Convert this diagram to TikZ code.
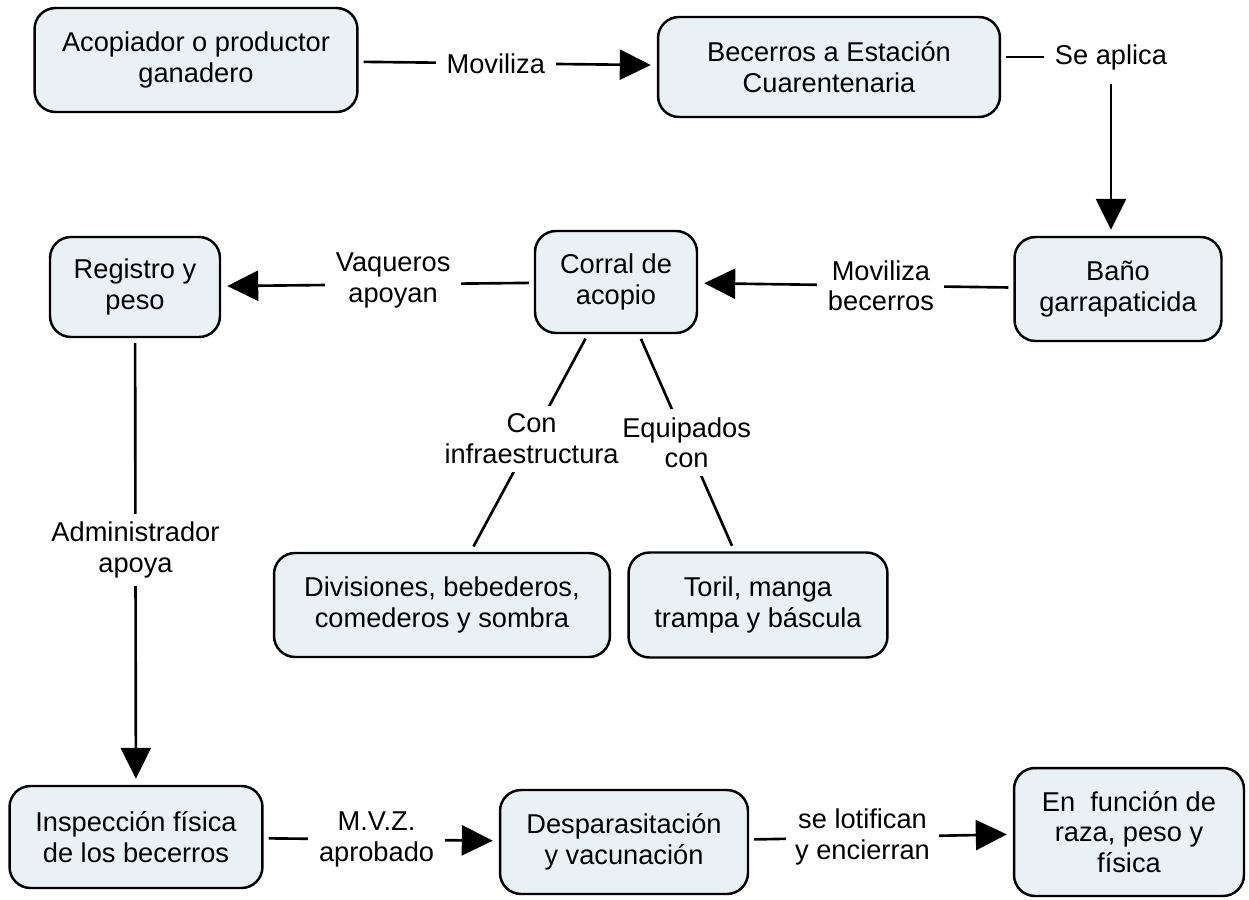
\documentclass[tikz,border=0pt]{standalone}
\usepackage{fontspec}
\setmainfont{Liberation Sans}
\usetikzlibrary{arrows.meta}

\definecolor{cmapfill}{RGB}{233,241,245}
\newcommand{\cmapfont}{\fontsize{15.5}{17.5}\selectfont}

\tikzset{
  concept/.style={draw = black, line width = 1.4pt, fill = cmapfill,
    rounded corners = 0.42cm, align = center, font = \cmapfont},
  linkword/.style={fill = white, align = center, font = \cmapfont,
    inner xsep = 6pt, inner ysep = 4.5pt},
  link/.style={line width = 1.5pt, shorten < = 0.1cm, shorten > = 0.12cm},
  arr/.style={link, -{Triangle[length = 0.62cm, width = 0.6cm]}}
}

\begin{document}
\begin{tikzpicture}[x = 0.02cm, y = -0.02cm]
  \useasboundingbox (0, 0) rectangle (1249, 900);

  \node[concept, minimum width = 6.46cm, minimum height = 2.08cm] (acop) at (196, 60) {Acopiador o productor\\ganadero};
  \node[concept, minimum width = 6.84cm, minimum height = 2.0cm] (bec) at (829, 67) {Becerros a Estación\\Cuarentenaria};
  \node[concept, minimum width = 4.14cm, minimum height = 2.08cm] (bano) at (1118, 289) {Baño\\garrapaticida};
  \node[concept, minimum width = 3.24cm, minimum height = 2.04cm] (corral) at (616, 282) {Corral de\\acopio};
  \node[concept, minimum width = 3.4cm, minimum height = 2.0cm] (reg) at (135, 287) {Registro y\\peso};
  \node[concept, minimum width = 6.72cm, minimum height = 2.08cm] (div) at (442, 605) {Divisiones, bebederos,\\comederos y sombra};
  \node[concept, minimum width = 5.18cm, minimum height = 2.1cm] (toril) at (758, 605) {Toril, manga\\trampa y báscula};
  \node[concept, minimum width = 5.06cm, minimum height = 2.04cm] (insp) at (136, 837) {Inspección física\\de los becerros};
  \node[concept, minimum width = 4.96cm, minimum height = 2.08cm] (desp) at (624, 842) {Desparasitación\\y vacunación};
  \node[concept, minimum width = 4.6cm, minimum height = 2.56cm] (raza) at (1129, 832) {En~ función de\\raza, peso y\\física};

  % enlaces
  \draw[arr] (acop) -- node[linkword, pos = 0.46] (movil) {Moviliza} (bec);

  \node[linkword, inner ysep = 8pt] (seapl) at (1111, 57) {Se aplica};
  \draw[link, shorten > = 0pt] (seapl.west -| bec.east) -- (seapl.west);
  \draw[arr, shorten < = 0pt] (seapl.south) -- (seapl.south |- bano.north);

  \draw[arr] (bano) -- node[linkword, pos = 0.42] (movbec) {Moviliza\\becerros} (corral);
  \draw[arr] (corral) -- node[linkword, pos = 0.45, yshift = 0.08cm] (vaq) {Vaqueros\\apoyan} (reg);

  \draw[link] (corral) -- node[linkword, pos = 0.5, inner xsep = 1pt] (equip) {Equipados\\con} (toril);
  \draw[link] (corral) -- node[linkword, pos = 0.48, inner xsep = 1pt] (infra) {Con\\infraestructura} (div);

  \draw[arr] (reg) -- node[linkword, pos = 0.474] (admin) {Administrador\\apoya} (insp);
  \draw[arr] (insp) -- node[linkword, pos = 0.48] (mvz) {M.V.Z.\\aprobado} (desp);
  \draw[arr] (desp) -- node[linkword, pos = 0.43, inner xsep = 5pt] (lotif) {se lotifican\\y encierran} (raza);
\end{tikzpicture}
\end{document}
